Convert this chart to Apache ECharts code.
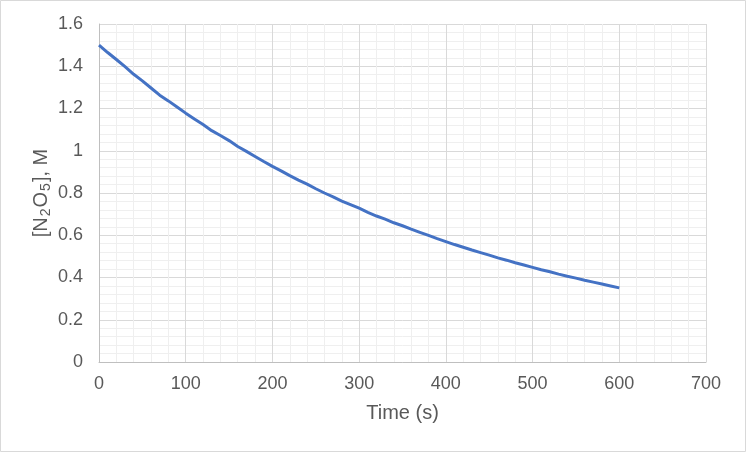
<!DOCTYPE html>
<html>
<head>
<meta charset="utf-8">
<script src="https://cdn.jsdelivr.net/npm/echarts@6/dist/echarts.min.js"></script>
<style>
  html, body { margin: 0; padding: 0; background: #fff; }
  #container { width: 746px; height: 452px; }
</style>
</head>
<body>
<div id="container"></div>
<script>
// time (s)
var times = [0, 10, 20, 30, 40, 50, 60, 70, 80, 90,
    100, 110, 120, 130, 140, 150, 160, 170, 180, 190,
    200, 210, 220, 230, 240, 250, 260, 270, 280, 290,
    300, 310, 320, 330, 340, 350, 360, 370, 380, 390,
    400, 410, 420, 430, 440, 450, 460, 470, 480, 490,
    500, 510, 520, 530, 540, 550, 560, 570, 580, 590, 600];
// [N2O5], M
var conc = [1.500, 1.465, 1.432, 1.398, 1.362, 1.331, 1.297, 1.263, 1.236, 1.207,
    1.178, 1.150, 1.124, 1.095, 1.072, 1.048, 1.020, 0.997, 0.973, 0.949,
    0.926, 0.905, 0.882, 0.861, 0.842, 0.820, 0.800, 0.782, 0.762, 0.745,
    0.728, 0.708, 0.691, 0.676, 0.659, 0.645, 0.629, 0.614, 0.599, 0.584,
    0.570, 0.556, 0.543, 0.530, 0.518, 0.506, 0.493, 0.482, 0.470, 0.459,
    0.448, 0.437, 0.427, 0.416, 0.406, 0.397, 0.387, 0.378, 0.369, 0.360, 0.351];

var xTitle = 'Time (s)';
var yTitle = '[N{sub|2}O{sub|5}], M';

var dom = document.getElementById('container');
var myChart = echarts.init(dom);

var seriesData = [];
for (var i = 0, l = times.length; i < l; i++) {
    seriesData.push([times[i], conc[i]]);
}

var labelFont = 'Liberation Sans, Arial, sans-serif';

var option = {
    animation: false,
    backgroundColor: '#fff',
    graphic: [{
        type: 'rect',
        shape: { x: 0.5, y: 0.5, width: 745, height: 451 },
        style: { fill: 'none', stroke: '#d9d9d9', lineWidth: 1 },
        silent: true
    }],
    grid: {
        left: 99,
        right: 40,
        top: 24,
        bottom: 90
    },
    xAxis: {
        type: 'value',
        min: 0,
        max: 700,
        interval: 100,
        name: xTitle,
        nameLocation: 'middle',
        nameGap: 41,
        nameMoveOverlap: false,
        nameTextStyle: { fontFamily: labelFont, fontSize: 20, color: '#595959' },
        axisLine: { show: true, lineStyle: { color: '#bfbfbf', width: 1 } },
        axisTick: { show: false },
        minorTick: { show: false, splitNumber: 5 },
        axisLabel: { fontFamily: labelFont, fontSize: 18, color: '#595959', margin: 13 },
        splitLine: { show: true, lineStyle: { color: '#d9d9d9', width: 1 } },
        minorSplitLine: { show: true, lineStyle: { color: '#efefef', width: 1 } }
    },
    yAxis: {
        type: 'value',
        min: 0,
        max: 1.6,
        interval: 0.2,
        name: yTitle,
        nameLocation: 'middle',
        nameGap: 46,
        nameMoveOverlap: false,
        nameTextStyle: {
            fontFamily: labelFont, fontSize: 20, color: '#595959',
            rich: {
                sub: { fontFamily: labelFont, fontSize: 14, color: '#595959', verticalAlign: 'bottom', padding: [9, 1, 0, 1] }
            }
        },
        axisLine: { show: true, lineStyle: { color: '#bfbfbf', width: 1 } },
        axisTick: { show: false },
        minorTick: { show: false, splitNumber: 5 },
        axisLabel: {
            fontFamily: labelFont, fontSize: 18, color: '#595959', margin: 16,
            formatter: function (v) { return String(Math.round(v * 10) / 10); }
        },
        splitLine: { show: true, lineStyle: { color: '#d9d9d9', width: 1 } },
        minorSplitLine: { show: true, lineStyle: { color: '#efefef', width: 1 } }
    },
    series: [{
        type: 'line',
        data: seriesData,
        showSymbol: false,
        symbol: 'none',
        smooth: false,
        lineStyle: { color: '#4472c4', width: 3 }
    }]
};

if (option && typeof option === 'object') {
    myChart.setOption(option, true);
}
</script>
</body>
</html>
